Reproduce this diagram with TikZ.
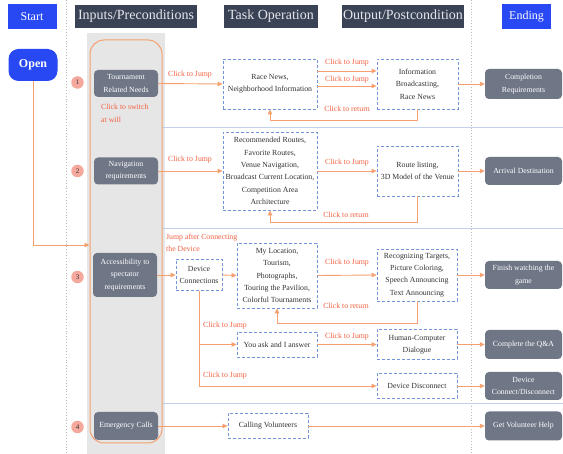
\documentclass[tikz,border=0pt]{standalone}
\usepackage{fontspec}
\setmainfont{Liberation Serif}
\usetikzlibrary{arrows.meta,calc}
\definecolor{hdrdark}{HTML}{3A4356}
\definecolor{hdrtext}{HTML}{E4E6EA}
\definecolor{sblue}{HTML}{2748F2}
\definecolor{ngray}{HTML}{6F7686}
\definecolor{dblue}{HTML}{7394DA}
\definecolor{sepblue}{HTML}{C3D1EC}
\definecolor{aorange}{HTML}{F5A06E}
\definecolor{lred}{HTML}{F2603F}
\definecolor{pinkc}{HTML}{F5A89C}
\definecolor{colgray}{HTML}{E6E6E6}
\definecolor{tgray}{HTML}{333333}
\begin{document}
\begin{tikzpicture}[x=1pt,y=-1pt,
  hdr/.style={fill=hdrdark,text=hdrtext,font=\fontsize{14}{16}\selectfont,inner sep=1pt,minimum height=23},
  hblue/.style={fill=sblue,text=white,font=\fontsize{12}{14}\selectfont,inner sep=1pt,minimum width=49,minimum height=25.5},
  inp/.style={fill=ngray,rounded corners=4pt,text=white,font=\fontsize{7.8}{12.4}\selectfont,align=center,minimum width=64,inner sep=1pt},
  endn/.style={fill=ngray,rounded corners=4pt,text=white,font=\fontsize{7.8}{12.4}\selectfont,align=center,minimum width=77,inner sep=1pt},
  task/.style={draw=dblue,dash pattern=on 3pt off 2pt,line width=0.8pt,text=tgray,font=\fontsize{7.8}{12.3}\selectfont,align=center,inner sep=1.5pt},
  lbl/.style={text=lred,font=\fontsize{7.8}{12.3}\selectfont,inner sep=0pt},
  arr/.style={draw=aorange,line width=0.9pt,-{Triangle[length=5pt,width=4.5pt]}},
  numc/.style={circle,fill=pinkc,text=tgray,minimum size=12.5,inner sep=0pt,font=\fontsize{7}{8}\selectfont},
  sep/.style={draw=sepblue,line width=0.9pt},
  vdot/.style={draw=gray!55,dotted,line width=0.9pt}
]
\useasboundingbox (0,0) rectangle (563,454);
\fill[white] (0,0) rectangle (563,454);
% gray column and guides
\fill[colgray] (87,33) rectangle (165,454);
\draw[vdot] (66,0) -- (66,454);
\draw[vdot] (471,0) -- (471,454);
\draw[sep] (162,127) -- (563,127);
\draw[sep] (162,228) -- (563,228);
\draw[sep] (162,403) -- (563,403);
% headers
\node[hblue] (hstart) at (32,16.5) {Start};
\node[hdr,minimum width=122] (hin) at (136,16.5) {Inputs/Preconditions};
\node[hdr,minimum width=94] (htask) at (271,16.5) {Task Operation};
\node[hdr,minimum width=122] (hout) at (403,16.5) {Output/Postcondition};
\node[hblue] (hend) at (526.5,16.5) {Ending};
% open
\node[fill=sblue,text=white,rounded corners=10pt,minimum width=49,minimum height=32,font=\bfseries\fontsize{12}{14}\selectfont] (open) at (33,65) {Open};
% orange container
\node[draw=aorange,line width=1pt,rounded corners=14pt,minimum width=72,minimum height=403] (inbox) at (126,241.5) {};
\draw[arr] (open.south) |- ([yshift=-3.5pt]inbox.west);
% number circles
\node[numc] (n1) at (77.5,82.5) {1};
\node[numc] (n2) at (77.5,171) {2};
\node[numc] (n3) at (77.5,277) {3};
\node[numc] (n4) at (77.5,427) {4};
% input nodes
\node[inp,minimum height=27] (tour) at (126,83.5) {Tournament\\Related Needs};
\node[lbl,anchor=west,align=left,font=\fontsize{7.8}{12.8}\selectfont] (switch) at (101,113.5) {Click to switch\\at will};
\node[inp,minimum height=27] (nav) at (126,171) {Navigation\\requirements};
\node[inp,minimum height=44] (acc) at (125,275) {Accessibility to\\spectator\\requirements};
\node[inp,minimum height=28] (emer) at (126,426) {Emergency Calls};
% task nodes
\node[task,minimum width=94,minimum height=50] (race) at (270,84) {Race News,\\Neighborhood Information};
\node[task,minimum width=81,minimum height=50] (info) at (417.5,84) {Information\\Broadcasting,\\Race News};
\node[task,minimum width=94,minimum height=78] (rec) at (270,171) {Recommended Routes,\\Favorite Routes,\\Venue Navigation,\\Broadcast Current Location,\\Competition Area\\Architecture};
\node[task,minimum width=81,minimum height=50] (route) at (417.5,171) {Route listing,\\3D Model of the Venue};
\node[task,minimum width=46,minimum height=31] (dev) at (199,275) {Device\\Connections};
\node[task,minimum width=80,minimum height=65] (myloc) at (277,275.5) {My Location,\\Tourism,\\Photographs,\\Touring the Pavilion,\\Colorful Tournaments};
\node[task,minimum width=80,minimum height=52] (recog) at (417,275) {Recognizing Targets,\\Picture Coloring,\\Speech Announcing\\Text Announcing};
\node[task,minimum width=80,minimum height=25] (ask) at (277,344.5) {You ask and I answer};
\node[task,minimum width=80,minimum height=30] (hcd) at (417,344.5) {Human-Computer\\Dialogue};
\node[task,minimum width=80,minimum height=25] (disc) at (417,386) {Device Disconnect};
\node[task,minimum width=80,minimum height=25] (call) at (268,426) {Calling Volunteers};
% ending nodes
\node[endn,minimum height=30] (e1) at (523.5,84) {Completion\\Requirements};
\node[endn,minimum height=28] (e2) at (523.5,171) {Arrival Destination};
\node[endn,minimum height=28] (e3) at (523.5,275) {Finish watching the\\game};
\node[endn,minimum height=29] (e4) at (523.5,344.5) {Complete the Q\&A};
\node[endn,minimum height=28] (e5) at (523.5,386) {Device\\Connect/Disconnect};
\node[endn,minimum height=29] (e6) at (523.5,426) {Get Volunteer Help};
% row 1
\draw[arr] (tour.east) -- (race.west);
\node[lbl] (l1) at (190,75) {Click to Jump};
\draw[arr] ([yshift=13pt]race.east) -- ([yshift=13pt]info.west);
\node[lbl] (l2) at (347,63) {Click to Jump};
\draw[arr] ([yshift=-2pt]race.east) -- ([yshift=-2pt]info.west);
\node[lbl] (l3) at (347,80) {Click to Jump};
\draw[arr] (info.south) -- ++(0,11) -| (race.south);
\node[lbl] (l4) at (347,109) {Click to return};
\draw[arr] (info.east) -- (e1.west);
% row 2
\draw[arr] (nav.east) -- (rec.west);
\node[lbl] (l5) at (190,160) {Click to Jump};
\draw[arr] (rec.east) -- (route.west);
\node[lbl] (l6) at (347,163) {Click to Jump};
\draw[arr] (route.south) -- ++(0,26) -| (rec.south);
\node[lbl] (l7) at (346,215) {Click to return};
\draw[arr] (route.east) -- (e2.west);
% row 3
\draw[arr] (acc.east) -- (dev.west);
\node[lbl,anchor=west,align=left] (l8) at (166,243) {Jump after Connecting\\the Device};
\draw[arr] (dev.east) -- (myloc.west);
\draw[arr] (myloc.east) -- (recog.west);
\node[lbl] (l9) at (347,263) {Click to Jump};
\draw[arr] (recog.south) -- ++(0,22) -| (myloc.south);
\node[lbl] (l10) at (346,306) {Click to return};
\draw[arr] (recog.east) -- (e3.west);
\draw[arr] (dev.south) |- (disc.west);
\draw[arr] (dev.south |- ask.west) -- (ask.west);
\node[lbl] (l11) at (225,326) {Click to Jump};
\node[lbl] (l12) at (225,376) {Click to Jump};
\draw[arr] (ask.east) -- (hcd.west);
\node[lbl] (l13) at (347,337) {Click to Jump};
\draw[arr] (hcd.east) -- (e4.west);
\draw[arr] (disc.east) -- (e5.west);
% row 4
\draw[arr] (emer.east) -- (call.west);
\draw[arr] (call.east) -- (e6.west);
\end{tikzpicture}
\end{document}
